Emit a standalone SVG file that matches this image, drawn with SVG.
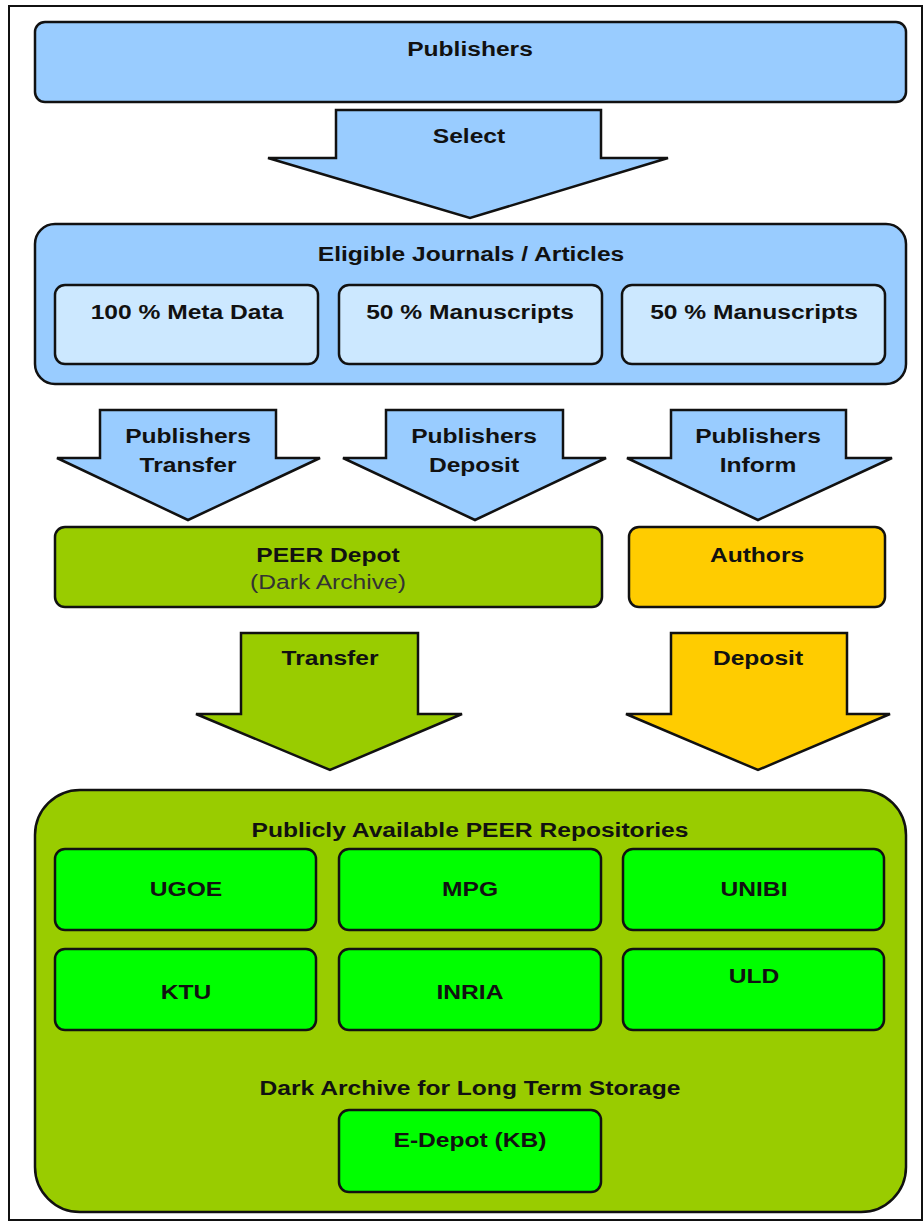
<svg xmlns="http://www.w3.org/2000/svg" width="924" height="1223" viewBox="0 0 924 1223">
<style>
.t{font-family:"Liberation Sans",Arial,sans-serif;font-size:20px;font-weight:bold;fill:#111;text-anchor:middle}
.n{font-weight:normal;fill:#333}
.s{stroke:#111;stroke-width:2.5;stroke-linejoin:miter}
.blue{fill:#99CCFF}
.lblue{fill:#CCE8FF}
.olive{fill:#99CC00}
.gold{fill:#FFCC00}
.green{fill:#00FF00}
</style>
<rect x="0" y="0" width="924" height="1223" fill="#fff"/>
<rect x="9" y="6" width="913" height="1214" fill="none" stroke="#111" stroke-width="2"/>

<g id="publishers">
<rect class="s blue" x="35" y="22" width="871" height="80" rx="10"/>
<text class="t" transform="matrix(1.23 0 0 1 470 56)">Publishers</text>
</g>

<g id="connectors">
<g id="select">
<polygon class="s blue" points="336,110 601,110 601,158 668,158 470,218 268,158 336,158"/>
<text class="t" transform="matrix(1.23 0 0 1 469 143)">Select</text>
</g>
<g id="pub-transfer">
<polygon class="s blue" points="100,410 276,410 276,458 320,458 188,520 57,458 100,458"/>
<text class="t" transform="matrix(1.23 0 0 1 188 443)">Publishers</text>
<text class="t" transform="matrix(1.23 0 0 1 188 472)">Transfer</text>
</g>
<g id="pub-deposit">
<polygon class="s blue" points="386,410 563,410 563,458 606,458 475,520 343,458 386,458"/>
<text class="t" transform="matrix(1.23 0 0 1 474 443)">Publishers</text>
<text class="t" transform="matrix(1.23 0 0 1 474 472)">Deposit</text>
</g>
<g id="pub-inform">
<polygon class="s blue" points="671,410 846,410 846,458 892,458 758,520 627,458 671,458"/>
<text class="t" transform="matrix(1.23 0 0 1 758 443)">Publishers</text>
<text class="t" transform="matrix(1.23 0 0 1 758 472)">Inform</text>
</g>
<g id="transfer">
<polygon class="s olive" points="241,633 418,633 418,714 462,714 330,770 196,714 241,714"/>
<text class="t" transform="matrix(1.23 0 0 1 330 665)">Transfer</text>
</g>
<g id="deposit">
<polygon class="s gold" points="671,633 847,633 847,714 890,714 758,770 626,714 671,714"/>
<text class="t" transform="matrix(1.23 0 0 1 758 665)">Deposit</text>
</g>
</g>

<g id="eligible">
<rect class="s blue" x="35" y="224" width="871" height="160" rx="20"/>
<text class="t" transform="matrix(1.23 0 0 1 471 261)">Eligible Journals / Articles</text>
</g>
<g id="meta">
<rect class="s lblue" x="55" y="285" width="263" height="79" rx="10"/>
<text class="t" transform="matrix(1.23 0 0 1 187 319)">100 % Meta Data</text>
</g>
<g id="manu1">
<rect class="s lblue" x="339" y="285" width="263" height="79" rx="10"/>
<text class="t" transform="matrix(1.23 0 0 1 470 319)">50 % Manuscripts</text>
</g>
<g id="manu2">
<rect class="s lblue" x="622" y="285" width="263" height="79" rx="10"/>
<text class="t" transform="matrix(1.23 0 0 1 754 319)">50 % Manuscripts</text>
</g>

<g id="peer-depot">
<rect class="s olive" x="55" y="527" width="547" height="80" rx="10"/>
<text class="t" transform="matrix(1.23 0 0 1 328 562)">PEER Depot</text>
<text class="t n" transform="matrix(1.23 0 0 1 328 589)">(Dark Archive)</text>
</g>
<g id="authors">
<rect class="s gold" x="629" y="527" width="256" height="80" rx="10"/>
<text class="t" transform="matrix(1.23 0 0 1 757 562)">Authors</text>
</g>

<g id="repositories">
<rect class="s olive" x="35" y="790" width="871" height="422" rx="45"/>
<text class="t" transform="matrix(1.23 0 0 1 470 837)">Publicly Available PEER Repositories</text>
<text class="t" transform="matrix(1.23 0 0 1 470 1095)">Dark Archive for Long Term Storage</text>
</g>
<g id="ugoe">
<rect class="s green" x="55" y="849" width="261" height="81" rx="10"/>
<text class="t" transform="matrix(1.23 0 0 1 186 896)">UGOE</text>
</g>
<g id="mpg">
<rect class="s green" x="339" y="849" width="262" height="81" rx="10"/>
<text class="t" transform="matrix(1.23 0 0 1 470 896)">MPG</text>
</g>
<g id="unibi">
<rect class="s green" x="623" y="849" width="261" height="81" rx="10"/>
<text class="t" transform="matrix(1.23 0 0 1 754 896)">UNIBI</text>
</g>
<g id="ktu">
<rect class="s green" x="55" y="949" width="261" height="81" rx="10"/>
<text class="t" transform="matrix(1.23 0 0 1 186 999)">KTU</text>
</g>
<g id="inria">
<rect class="s green" x="339" y="949" width="262" height="81" rx="10"/>
<text class="t" transform="matrix(1.23 0 0 1 470 999)">INRIA</text>
</g>
<g id="uld">
<rect class="s green" x="623" y="949" width="261" height="81" rx="10"/>
<text class="t" transform="matrix(1.23 0 0 1 754 983)">ULD</text>
</g>
<g id="edepot">
<rect class="s green" x="339" y="1110" width="262" height="82" rx="10"/>
<text class="t" transform="matrix(1.23 0 0 1 470 1147)">E-Depot (KB)</text>
</g>
</svg>
